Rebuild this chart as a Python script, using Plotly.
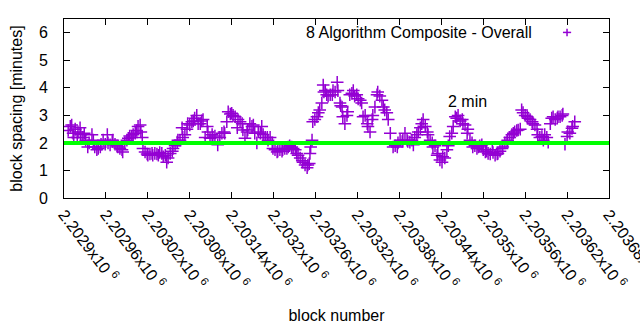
import plotly.graph_objects as go

# ---- data ----
blocks = [
    2202906, 2202909, 2202911, 2202913, 2202914, 2202916, 2202919, 2202920, 2202923, 2202924,
    2202927, 2202929, 2202931, 2202934, 2202936, 2202940, 2202942, 2202944, 2202947, 2202949,
    2202952, 2202953, 2202956, 2202959, 2202962, 2202963, 2202966, 2202969, 2202970, 2202973,
    2202976, 2202977, 2202980, 2202983, 2202984, 2202987, 2202990, 2202992, 2202994, 2202997,
    2202999, 2203002, 2203004, 2203006, 2203009, 2203010, 2203012, 2203013, 2203016, 2203019,
    2203020, 2203023, 2203026, 2203027, 2203030, 2203033, 2203035, 2203037, 2203040, 2203042,
    2203045, 2203047, 2203049, 2203052, 2203055, 2203056, 2203059, 2203062, 2203063, 2203066,
    2203069, 2203070, 2203073, 2203076, 2203077, 2203080, 2203083, 2203085, 2203087, 2203090,
    2203092, 2203095, 2203097, 2203099, 2203102, 2203105, 2203106, 2203109, 2203112, 2203113,
    2203116, 2203120, 2203123, 2203126, 2203129, 2203130, 2203133, 2203135, 2203138, 2203140,
    2203142, 2203145, 2203148, 2203149, 2203152, 2203155, 2203156, 2203159, 2203162, 2203163,
    2203166, 2203169, 2203171, 2203173, 2203176, 2203178, 2203181, 2203183, 2203185, 2203188,
    2203191, 2203192, 2203195, 2203198, 2203199, 2203202, 2203205, 2203206, 2203209, 2203212,
    2203213, 2203216, 2203219, 2203221, 2203223, 2203226, 2203228, 2203231, 2203233, 2203235,
    2203238, 2203241, 2203242, 2203245, 2203248, 2203249, 2203251, 2203252, 2203253, 2203255,
    2203256, 2203259, 2203262, 2203264, 2203266, 2203269, 2203271, 2203272, 2203274, 2203276,
    2203278, 2203281, 2203284, 2203285, 2203288, 2203291, 2203292, 2203295, 2203296, 2203298,
    2203299, 2203302, 2203305, 2203306, 2203309, 2203312, 2203314, 2203316, 2203319, 2203321,
    2203324, 2203326, 2203328, 2203331, 2203334, 2203335, 2203338, 2203341, 2203342, 2203345,
    2203348, 2203349, 2203352, 2203355, 2203357, 2203359, 2203362, 2203364, 2203367, 2203371,
    2203374, 2203377, 2203378, 2203381, 2203384, 2203385, 2203388, 2203391, 2203392, 2203395,
    2203398, 2203400, 2203402, 2203405, 2203407, 2203410, 2203412, 2203414, 2203417, 2203420,
    2203421, 2203424, 2203427, 2203428, 2203431, 2203434, 2203435, 2203438, 2203441, 2203442,
    2203445, 2203448, 2203450, 2203452, 2203455, 2203457, 2203460, 2203462, 2203464, 2203467,
    2203470, 2203471, 2203474, 2203477, 2203478, 2203481, 2203484, 2203485, 2203488, 2203491,
    2203493, 2203495, 2203498, 2203500, 2203503, 2203505, 2203507, 2203510, 2203513, 2203514,
    2203517, 2203520, 2203521, 2203524, 2203527, 2203528, 2203531, 2203534, 2203535, 2203538,
    2203541, 2203543, 2203545, 2203548, 2203550, 2203553, 2203555, 2203557, 2203560, 2203563,
    2203564, 2203567, 2203570, 2203571, 2203574, 2203577, 2203578, 2203581, 2203584, 2203586,
    2203588, 2203591, 2203593, 2203596, 2203598, 2203600, 2203603, 2203606, 2203607, 2203610,
    2203613, 2203614, 2203617, 2203620, 2203621, 2203624, 2203627, 2203628, 2203631,
]
spacing_min = [
    2.45, 2.6, 2.65, 2.35, 2.2, 2.5, 2.2, 2.4, 2.55, 2.3,
    2.2, 2.35, 2.1, 1.85, 2.0, 2.3, 2.1, 1.85, 1.75, 1.8,
    1.85, 1.95, 2.1, 1.95, 2.3, 2.0, 1.93, 2.05, 2.1, 1.95,
    1.9, 1.85, 1.8, 1.75, 1.67, 2.0, 2.1, 2.17, 2.25, 2.2,
    2.3, 2.35, 2.45, 2.6, 2.65, 2.4, 2.2, 1.8, 1.67, 1.6,
    1.55, 1.6, 1.62, 1.55, 1.62, 1.6, 1.55, 1.65, 1.62, 1.5,
    1.55, 1.3, 1.45, 1.62, 1.7, 1.8, 1.9, 2.03, 2.1, 2.1,
    2.55, 2.2, 2.3, 2.5, 2.7, 2.65, 2.77, 2.8, 2.9, 3.0,
    2.7, 2.7, 2.8, 2.85, 2.2, 2.6, 2.4, 2.17, 2.3, 2.2,
    2.25, 1.93, 2.2, 2.35, 2.4, 2.35, 2.77, 3.13, 3.05, 3.08,
    3.0, 2.95, 2.55, 2.85, 2.77, 2.7, 2.47, 2.17, 2.4, 2.47,
    2.7, 2.6, 2.65, 2.35, 2.0, 2.4, 2.35, 2.6, 2.3, 2.2,
    2.2, 2.1, 2.2, 2.0, 1.8, 1.75, 1.67, 1.7, 1.75, 1.7,
    1.75, 1.8, 1.8, 1.85, 1.9, 1.85, 1.8, 1.75, 1.62, 1.55,
    1.45, 1.35, 1.3, 1.2, 1.1, 1.2, 1.25, 1.62, 1.85, 2.1,
    2.77, 2.85, 2.95, 3.1, 3.2, 3.45, 4.1, 3.85, 3.9, 3.75,
    3.7, 3.75, 3.75, 3.9, 3.85, 4.2, 3.9, 3.45, 3.35, 3.3,
    2.95, 2.7, 3.0, 3.13, 3.75, 3.8, 3.9, 3.7, 3.75, 3.6,
    3.55, 3.45, 2.95, 3.0, 2.7, 2.6, 2.4, 2.85, 3.0, 3.3,
    3.75, 3.85, 3.7, 3.55, 3.3, 3.2, 3.1, 2.85, 2.35, 1.85,
    1.9, 1.85, 2.0, 2.1, 2.05, 2.1, 2.35, 2.1, 2.05, 2.03,
    2.1, 1.93, 2.2, 2.3, 2.4, 2.55, 2.7, 2.85, 2.6, 2.4,
    2.3, 2.1, 2.0, 1.85, 1.9, 1.55, 1.62, 1.38, 1.3, 1.5,
    1.45, 1.75, 1.9, 2.23, 2.35, 2.6, 2.95, 2.9, 3.0, 2.8,
    2.85, 2.7, 2.65, 2.35, 2.5, 2.1, 2.0, 1.85, 1.9, 1.8,
    1.85, 1.9, 1.93, 1.75, 1.67, 1.7, 1.62, 1.6, 1.75, 1.65,
    1.55, 1.6, 1.62, 1.7, 1.8, 1.85, 2.0, 2.05, 2.1, 2.2,
    2.3, 2.35, 2.4, 2.45, 2.47, 2.5, 3.2, 3.1, 3.0, 2.95,
    2.9, 2.85, 2.77, 2.7, 2.65, 2.5, 2.3, 2.2, 2.23, 2.1,
    2.3, 2.2, 2.03, 2.7, 2.9, 2.95, 2.85, 2.9, 2.95, 2.95,
    3.0, 3.05, 1.95, 2.23, 2.4, 2.35, 2.53, 2.6, 2.77,
]
series_name = "8 Algorithm Composite - Overall"
target_minutes = 2
target_label = "2 min"
target_label_pos = (2203447, 3.5)

x_range = [2202900, 2203680]
x_tickvals = [2202900, 2202960, 2203020, 2203080, 2203140, 2203200, 2203260,
              2203320, 2203380, 2203440, 2203500, 2203560, 2203620, 2203680]
x_ticktext = ["2.2029", "2.20296", "2.20302", "2.20308", "2.20314", "2.2032", "2.20326",
              "2.20332", "2.20338", "2.20344", "2.2035", "2.20356", "2.20362", "2.20368"]
y_range = [0, 6.5]
y_tickvals = [0, 1, 2, 3, 4, 5, 6]

PURPLE = "#9400D3"
FONT = "Liberation Sans, Arial, sans-serif"
FS = 16

fig = go.Figure()
fig.add_trace(go.Scatter(
    x=blocks, y=spacing_min, mode="markers", name=series_name,
    marker=dict(symbol="cross-thin", size=9, color=PURPLE,
                line=dict(color=PURPLE, width=1.5)),
    showlegend=False,
))

# target line at 2 minutes
fig.add_shape(type="line", xref="paper", x0=0, x1=1, yref="y",
              y0=target_minutes, y1=target_minutes,
              line=dict(color="#00FF00", width=4), layer="above")

# label
fig.add_annotation(x=target_label_pos[0], y=target_label_pos[1], text=target_label,
                   showarrow=False, xanchor="left", yanchor="middle",
                   font=dict(family=FONT, size=FS, color="black"))

# key (gnuplot style: text then sample on the right)
fig.add_annotation(xref="paper", yref="paper", x=0.862, y=0.925, text=series_name,
                   showarrow=False, xanchor="right", yanchor="middle",
                   font=dict(family=FONT, size=FS, color="black"))
kx, ky, kw, kh = 0.923, 0.925, 0.0075, 0.021
fig.add_shape(type="line", xref="paper", yref="paper", x0=kx - kw, x1=kx + kw, y0=ky, y1=ky,
              line=dict(color=PURPLE, width=1.5))
fig.add_shape(type="line", xref="paper", yref="paper", x0=kx, x1=kx, y0=ky - kh, y1=ky + kh,
              line=dict(color=PURPLE, width=1.5))

axis_common = dict(showline=True, linecolor="black", linewidth=1, mirror="allticks",
                   ticks="inside", ticklen=6, tickcolor="black", showgrid=False,
                   zeroline=False, tickfont=dict(family=FONT, size=FS, color="black"))

fig.update_xaxes(range=x_range, tickmode="array", tickvals=x_tickvals,
                 ticktext=[t + "x10 <sup>6</sup>" for t in x_ticktext],
                 tickangle=53, ticklabeloverflow="allow",
                 title=dict(text="block number", standoff=18,
                            font=dict(family=FONT, size=FS, color="black")),
                 **axis_common)
fig.update_yaxes(range=y_range, tickmode="array", tickvals=y_tickvals,
                 ticklabelstandoff=12,
                 title=dict(text="block spacing [minutes]", standoff=12,
                            font=dict(family=FONT, size=FS, color="black")),
                 **axis_common)

fig.update_layout(width=640, height=330, margin=dict(l=64, r=31, t=19, b=132, autoexpand=False),
                  plot_bgcolor="white", paper_bgcolor="white",
                  font=dict(family=FONT, size=FS, color="black"))

fig.write_html("out.html")
